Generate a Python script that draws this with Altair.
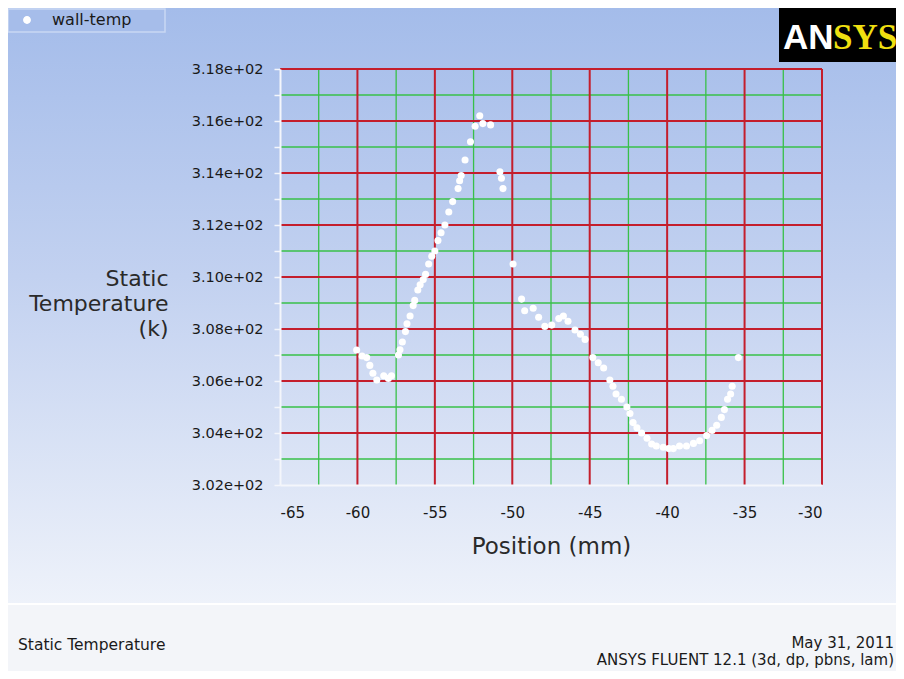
import altair as alt
import pandas as pd

# ---------------- data ----------------
series_name = ["wall-temp"]
position_mm = [-60.05, -59.7, -59.4, -59.2, -59.0, -58.75, -58.3, -58.0, -57.8, -57.35,
               -57.25, -57.1, -56.9, -56.8, -56.6, -56.4, -56.3, -56.1, -55.95, -55.75,
               -55.6, -55.4, -55.2, -55.0, -54.8, -54.6, -54.35, -54.1, -53.85, -53.5,
               -53.4, -53.3, -53.05, -52.7, -52.4, -52.1, -51.9, -51.4, -50.8, -50.7,
               -50.6, -49.95, -49.4, -49.2, -48.65, -48.3, -47.9, -47.45, -47.0, -46.7,
               -46.4, -45.95, -45.6, -45.3, -44.8, -44.45, -44.1, -43.7, -43.5, -43.3,
               -42.95, -42.6, -42.4, -42.2, -41.95, -41.65, -41.3, -41.0, -40.7, -40.25,
               -39.9, -39.6, -39.2, -38.75, -38.3, -37.9, -37.45, -37.1, -36.8, -36.5,
               -36.3, -36.1, -35.9, -35.8, -35.4]
static_temp_k = [307.19, 306.96, 306.9, 306.6, 306.3, 306.04, 306.2, 306.1, 306.2, 307.0,
                 307.2, 307.5, 307.9, 308.2, 308.5, 308.9, 309.1, 309.5, 309.7, 309.9,
                 310.1, 310.5, 310.8, 311.0, 311.4, 311.7, 312.0, 312.5, 312.9, 313.4,
                 313.7, 313.9, 314.5, 315.2, 315.8, 316.2, 315.9, 315.85, 314.05, 313.8,
                 313.4, 310.5, 309.15, 308.7, 308.8, 308.45, 308.1, 308.15, 308.4, 308.5,
                 308.3, 307.96, 307.8, 307.6, 306.9, 306.7, 306.5, 306.04, 305.8, 305.5,
                 305.3, 305.0, 304.75, 304.4, 304.2, 304.0, 303.8, 303.58, 303.5, 303.45,
                 303.4, 303.4, 303.5, 303.5, 303.6, 303.7, 303.9, 304.1, 304.3, 304.6,
                 304.9, 305.3, 305.5, 305.8, 306.9]

x_ticks = [-65, -60, -55, -50, -45, -40, -35, -30]
x_major_grid = [-60, -55, -50, -45, -40, -35, -30]
x_minor_grid = [-62.5, -57.5, -52.5, -47.5, -42.5, -37.5, -32.5]
y_ticks = [302, 303, 304, 305, 306, 307, 308, 309, 310, 311, 312, 313, 314, 315, 316, 317, 318]
y_major_grid = [304, 306, 308, 310, 312, 314, 316, 318]
y_minor_grid = [303, 305, 307, 309, 311, 313, 315, 317]

x_title = "Position (mm)"
y_title = ["Static", "Temperature", "(k)"]
footer_left = "Static Temperature"
footer_right = ["May 31, 2011", "ANSYS FLUENT 12.1 (3d, dp, pbns, lam)"]
logo_parts = ["AN", "SYS"]

FONT = "DejaVu Sans"
W, H = 542, 416
PAD = {"left": 272, "top": 61, "right": 74, "bottom": 186}

points = pd.DataFrame({"x": position_mm, "y": static_temp_k,
                       "series": series_name * len(position_mm)})

xscale = alt.Scale(domain=[-65, -30], nice=False, zero=False)
yscale = alt.Scale(domain=[302, 318], nice=False, zero=False)

xaxis = alt.Axis(values=x_ticks, labelExpr="datum.value + ''", title=x_title,
                 ticks=False, tickSize=0, labelPadding=20, labelFontSize=15,
                 labelFont=FONT, labelColor="#1a1a1a", domainColor="#f4f6fb",
                 domainWidth=2, grid=False, titleFont=FONT, titleFontSize=23,
                 titleFontWeight="normal", titleColor="#2a2a2a",
                 titleBaseline="alphabetic", titleY=68, zindex=1)
yaxis = alt.Axis(values=y_ticks,
                 labelExpr="datum.value % 2 == 0 ? format(datum.value / 100, '.2f') + 'e+02' : ''",
                 title=y_title, ticks=True, tickSize=6, tickColor="#f4f6fb", tickWidth=1.5,
                 labelPadding=11, labelFontSize=14.5, labelFont=FONT, labelColor="#1a1a1a",
                 domainColor="#f4f6fb", domainWidth=2, grid=False,
                 titleFont=FONT, titleFontSize=22, titleFontWeight="normal",
                 titleColor="#2a2a2a", titleAngle=0, titleAlign="right",
                 titleBaseline="alphabetic", titleX=-112, titleY=216,
                 titleLineHeight=25, zindex=1)

one = alt.Data(values=[{}])

bg_gradient = alt.LinearGradient(
    gradient="linear", x1=0, x2=0, y1=0, y2=1,
    stops=[alt.GradientStop(offset=0, color="#a4bcea"),
           alt.GradientStop(offset=0.45, color="#c2d1f0"),
           alt.GradientStop(offset=1, color="#eef2fa")])

background = alt.Chart(one).mark_rect(fill=bg_gradient).encode(
    x=alt.value(-PAD["left"]), x2=alt.value(W + PAD["right"]),
    y=alt.value(-PAD["top"]), y2=alt.value(535))
footer_band = alt.Chart(one).mark_rect(fill="#f3f5f9").encode(
    x=alt.value(-PAD["left"]), x2=alt.value(W + PAD["right"]),
    y=alt.value(536), y2=alt.value(H + PAD["bottom"]))
separator = alt.Chart(one).mark_rule(color="#ffffff", strokeWidth=2).encode(
    x=alt.value(-PAD["left"]), x2=alt.value(W + PAD["right"]), y=alt.value(535))

legend_box = alt.Chart(one).mark_rect(fill="#a6bdea", stroke="#c9d7f3", strokeWidth=1.5).encode(
    x=alt.value(-272), x2=alt.value(-115), y=alt.value(-60), y2=alt.value(-37))

logo_box = alt.Chart(one).mark_rect(fill="#000000").encode(
    x=alt.value(499), x2=alt.value(W + PAD["right"]), y=alt.value(-61), y2=alt.value(-7))
logo_an = alt.Chart(one).mark_text(
    font="Liberation Sans", fontSize=35, fontWeight="bold", color="#ffffff",
    align="left", baseline="alphabetic").encode(
    x=alt.value(503), y=alt.value(-20), text=alt.value(logo_parts[0]))
logo_sys = alt.Chart(one).mark_text(
    font="Liberation Serif", fontSize=35, fontWeight="bold", color="#f0e010",
    align="left", baseline="alphabetic").encode(
    x=alt.value(553), y=alt.value(-20), text=alt.value(logo_parts[1]))

foot_l = alt.Chart(one).mark_text(
    font=FONT, fontSize=15.5, color="#1a1a1a", align="left", baseline="alphabetic").encode(
    x=alt.value(-262), y=alt.value(581), text=alt.value(footer_left))
foot_r = alt.Chart(one).mark_text(
    font=FONT, fontSize=15, color="#1a1a1a", align="right", baseline="alphabetic",
    lineHeight=17).encode(
    x=alt.value(614), y=alt.value(579), text=alt.value(footer_right))

vx_minor = alt.Chart(pd.DataFrame({"x": x_minor_grid})).mark_rule(
    color="#38c048", strokeWidth=1.3).encode(x=alt.X("x:Q", scale=xscale, axis=xaxis))
hy_minor = alt.Chart(pd.DataFrame({"y": y_minor_grid})).mark_rule(
    color="#38c048", strokeWidth=1.3).encode(y=alt.Y("y:Q", scale=yscale, axis=yaxis))
vx_major = alt.Chart(pd.DataFrame({"x": x_major_grid})).mark_rule(
    color="#c41e2c", strokeWidth=2).encode(x=alt.X("x:Q", scale=xscale, axis=xaxis))
hy_major = alt.Chart(pd.DataFrame({"y": y_major_grid})).mark_rule(
    color="#c41e2c", strokeWidth=2).encode(y=alt.Y("y:Q", scale=yscale, axis=yaxis))

pts = alt.Chart(points).mark_circle(size=50, opacity=1).encode(
    x=alt.X("x:Q", scale=xscale, axis=xaxis),
    y=alt.Y("y:Q", scale=yscale, axis=yaxis),
    color=alt.Color("series:N",
                    scale=alt.Scale(domain=series_name, range=["#ffffff"]),
                    legend=alt.Legend(orient="none", legendX=-261, legendY=-57, title=None,
                                      symbolType="circle", symbolSize=40,
                                      symbolFillColor="#ffffff", symbolStrokeColor="#ffffff",
                                      labelFont=FONT, labelFontSize=16, labelColor="#1a1a1a",
                                      labelOffset=17, padding=0)))

chart = alt.layer(background, footer_band, separator, legend_box, logo_box, logo_an, logo_sys,
                  foot_l, foot_r, vx_minor, hy_minor, vx_major, hy_major, pts).properties(
    width=W, height=H,
    autosize=alt.AutoSizeParams(type="none"),
    padding=PAD,
).configure_view(stroke=None)

chart.save("out.html", embed_options={"renderer": "svg", "actions": False})
